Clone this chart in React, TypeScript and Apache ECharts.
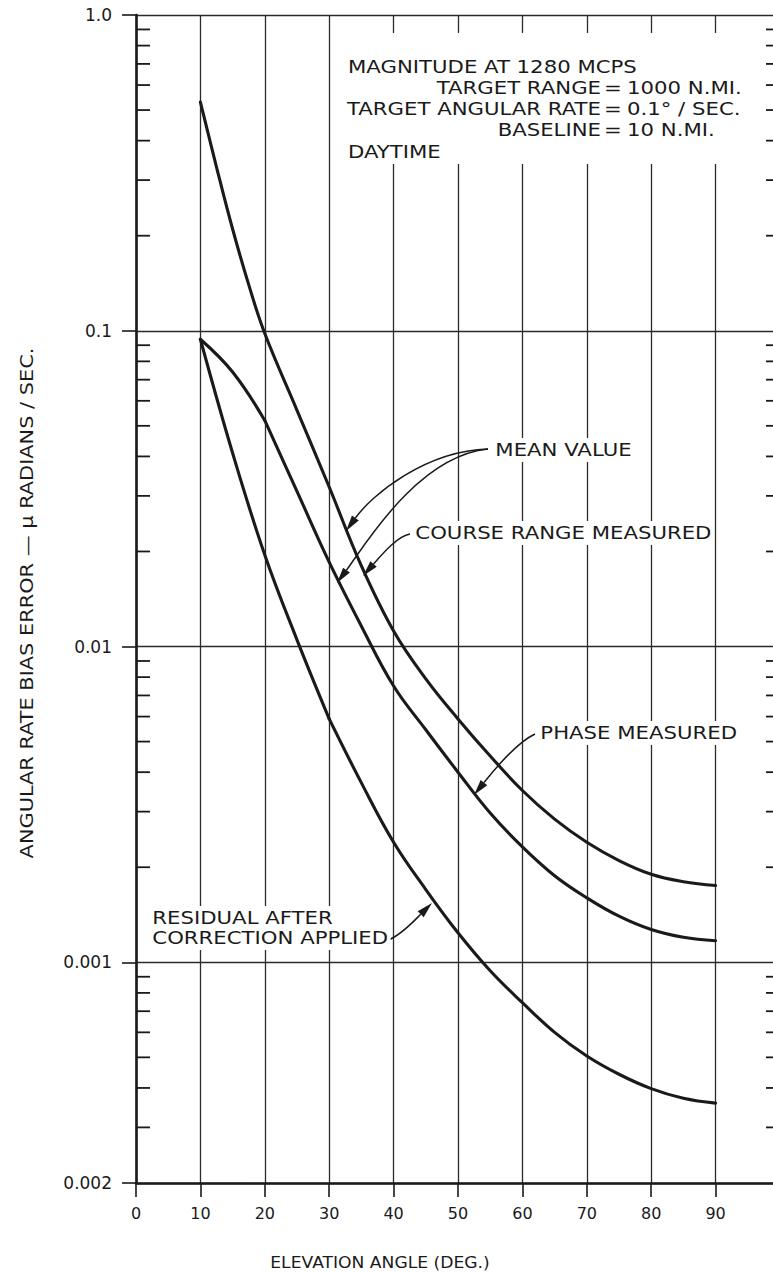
import React, { useEffect, useRef } from "react";
import * as echarts from "echarts";

// ---- data ----
const courseAngles = [10, 12.5, 15, 17.5, 20, 25, 30, 35, 40, 45, 50, 55, 60, 65, 70, 75, 80, 85, 90];
const courseRangeMeasured = [0.53, 0.33, 0.21, 0.14, 0.098, 0.056, 0.032, 0.018, 0.0112, 0.0079, 0.0059, 0.0045, 0.0035, 0.00284, 0.0024, 0.0021, 0.0019, 0.0018, 0.00175];

const angles = [10, 15, 20, 25, 30, 35, 40, 45, 50, 55, 60, 65, 70, 75, 80, 85, 90];
const phaseMeasured = [0.094, 0.074, 0.052, 0.031, 0.0185, 0.0116, 0.0075, 0.00545, 0.004, 0.00297, 0.00232, 0.00188, 0.0016, 0.0014, 0.00127, 0.0012, 0.00117];
const residualAfterCorrection = [0.094, 0.041, 0.0195, 0.0105, 0.0059, 0.0037, 0.0024, 0.0017, 0.00124, 0.00094, 0.000745, 0.0006, 0.000505, 0.000442, 0.000398, 0.000371, 0.000358];
// angles where the drawn curves have a corner
const phaseCornerAngle = 20;
const residualCornerAngle = 30;

const xTickLabels = ["0", "10", "20", "30", "40", "50", "60", "70", "80", "90"];
const yTickValues = [0.0002, 0.001, 0.01, 0.1, 1];
const yTickLabels = ["0.002", "0.001", "0.01", "0.1", "1.0"];
const minorTickValues = [
  0.0003, 0.0004, 0.0005, 0.0006, 0.0007, 0.0008, 0.0009,
  0.002, 0.003, 0.004, 0.005, 0.006, 0.007, 0.008, 0.009,
  0.02, 0.03, 0.04, 0.05, 0.06, 0.07, 0.08, 0.09,
  0.2, 0.3, 0.4, 0.5, 0.6, 0.7, 0.8, 0.9,
];

const infoLines = [
  { left: "TARGET RANGE", right: "1000 N.MI." },
  { left: "TARGET ANGULAR RATE", right: "0.1° / SEC." },
  { left: "BASELINE", right: "10 N.MI." },
];

const INK = "#1a1a1a";
const FONT = "DejaVu Sans";
const ANN_SIZE = 18;
const ANN_SCALE = 1.18;

function label(text: string, x: number, y: number, align: string = "left", bg = true) {
  return {
    type: "text",
    x,
    y,
    z: 30,
    scaleX: ANN_SCALE,
    style: {
      text,
      fontSize: ANN_SIZE,
      fontFamily: FONT,
      fill: INK,
      align,
      verticalAlign: "middle",
      backgroundColor: bg ? "#ffffff" : undefined,
      padding: bg ? [3, 2] : 0,
    },
  };
}

function arrow(p0: number[], c1: number[], c2: number[], tip: number[]) {
  const dx = tip[0] - c2[0];
  const dy = tip[1] - c2[1];
  const L = Math.hypot(dx, dy);
  const ux = dx / L;
  const uy = dy / L;
  const len = 16;
  const hw = 4.2;
  const base = [tip[0] - ux * len, tip[1] - uy * len];
  const nx = -uy;
  const ny = ux;
  return [
    {
      type: "bezierCurve",
      z: 25,
      shape: { x1: p0[0], y1: p0[1], cpx1: c1[0], cpy1: c1[1], cpx2: c2[0], cpy2: c2[1], x2: base[0], y2: base[1] },
      style: { stroke: INK, lineWidth: 1.5, fill: "none" },
    },
    {
      type: "polygon",
      z: 25,
      shape: {
        points: [
          [tip[0], tip[1]],
          [base[0] + nx * hw, base[1] + ny * hw],
          [base[0] - nx * hw, base[1] - ny * hw],
        ],
      },
      style: { fill: INK },
    },
  ];
}

function pairs(xs: number[], ys: number[], from: number, to: number) {
  const out: number[][] = [];
  xs.forEach((a, i) => {
    if (a >= from && a <= to) out.push([a, ys[i]]);
  });
  return out;
}

export default function App() {
  const ref = useRef<HTMLDivElement>(null);

  useEffect(() => {
    if (!ref.current) return;
    const chart = echarts.init(ref.current, null, { renderer: "svg" });

    const lineSeries = (name: string, data: number[][]) => ({
      name,
      type: "line",
      data,
      smooth: 0.4,
      showSymbol: false,
      symbol: "none",
      z: 5,
      lineStyle: { color: INK, width: 3.1, cap: "round", join: "round" },
      silent: true,
    });

    const graphics: any[] = [
      { type: "rect", z: 20, shape: { x: 343, y: 33, width: 406, height: 131 }, style: { fill: "#ffffff" } },
      label("MAGNITUDE AT 1280 MCPS", 348, 67, "left", false),
      label("DAYTIME", 348, 152, "left", false),
      ...infoLines.flatMap((ln, i) => {
        const y = 88 + i * 21;
        return [
          label(ln.left, 601, y, "right", false),
          label("=", 613, y, "center", false),
          label(ln.right, 627, y, "left", false),
        ];
      }),
      label("MEAN VALUE", 493, 450),
      label("COURSE RANGE MEASURED", 413, 533),
      label("PHASE MEASURED", 538, 733),
      label("RESIDUAL AFTER", 150, 918),
      label("CORRECTION APPLIED", 150, 938),
      ...arrow([488, 449], [425, 451], [372, 495], [346, 531]),
      ...arrow([488, 449], [418, 456], [365, 545], [337, 583]),
      ...arrow([410, 534], [398, 536], [384, 552], [363, 576]),
      ...arrow([535, 734], [518, 742], [498, 765], [474, 795]),
      ...arrow([388, 940], [400, 936], [414, 921], [432, 903]),
      {
        type: "text",
        x: 27,
        y: 603,
        rotation: Math.PI / 2,
        scaleX: 1.16,
        z: 30,
        style: {
          text: "ANGULAR RATE BIAS ERROR — μ RADIANS / SEC.",
          fontSize: ANN_SIZE,
          fontFamily: FONT,
          fill: INK,
          align: "center",
          verticalAlign: "middle",
        },
      },
      {
        type: "text",
        x: 380,
        y: 1262,
        z: 30,
        scaleX: 1.04,
        style: {
          text: "ELEVATION ANGLE (DEG.)",
          fontSize: 16.5,
          fontFamily: FONT,
          fill: INK,
          align: "center",
          verticalAlign: "middle",
        },
      },
    ];

    chart.setOption({
      animation: false,
      backgroundColor: "#ffffff",
      textStyle: { fontFamily: FONT, color: INK },
      grid: { left: 136, top: 15, width: 644, height: 1168, containLabel: false },
      xAxis: {
        type: "value",
        min: 0,
        max: 100,
        interval: 10,
        axisLine: { show: true, onZero: false, lineStyle: { color: INK, width: 2.6 } },
        axisTick: { show: true, inside: false, length: 14, lineStyle: { color: INK, width: 1.6 } },
        axisLabel: {
          margin: 22,
          fontSize: 16,
          fontFamily: FONT,
          color: INK,
          formatter: (v: number) => {
            const i = Math.round(v / 10);
            return i < xTickLabels.length ? xTickLabels[i] : "";
          },
        },
        splitLine: { show: true, lineStyle: { color: "#2b2b2b", width: 1.3 } },
      },
      yAxis: {
        type: "log",
        logBase: 10,
        min: yTickValues[0],
        max: yTickValues[yTickValues.length - 1],
        axisLine: { show: true, lineStyle: { color: INK, width: 2.6 } },
        axisTick: { show: true, inside: false, length: 14, lineStyle: { color: INK, width: 1.6 } },
        axisLabel: {
          margin: 24,
          fontSize: 17,
          fontFamily: FONT,
          color: INK,
          formatter: (v: number) => {
            let best = 0;
            let bd = Infinity;
            yTickValues.forEach((t, i) => {
              const d = Math.abs(Math.log10(t) - Math.log10(v));
              if (d < bd) { bd = d; best = i; }
            });
            return bd < 0.05 ? yTickLabels[best] : "";
          },
        },
        splitLine: { show: true, lineStyle: { color: "#2b2b2b", width: 1.3 } },
      },
      series: [
        lineSeries("Course range measured", pairs(courseAngles, courseRangeMeasured, 0, 90)),
        lineSeries("Phase measured", pairs(angles, phaseMeasured, 0, phaseCornerAngle)),
        lineSeries("Phase measured", pairs(angles, phaseMeasured, phaseCornerAngle, 90)),
        lineSeries("Residual after correction applied", pairs(angles, residualAfterCorrection, 0, residualCornerAngle)),
        lineSeries("Residual after correction applied", pairs(angles, residualAfterCorrection, residualCornerAngle, 90)),
        {
          type: "custom",
          silent: true,
          z: 4,
          clip: false,
          data: minorTickValues.map((v) => [0, v]),
          renderItem: (params: any, api: any) => {
            const v = api.value(1);
            const p = api.coord([0, v]);
            const q = api.coord([100, v]);
            return {
              type: "group",
              children: [
                { type: "line", shape: { x1: p[0], y1: p[1], x2: p[0] + 14, y2: p[1] }, style: { stroke: INK, lineWidth: 1.8 } },
                { type: "line", shape: { x1: q[0] - 14, y1: q[1], x2: q[0], y2: q[1] }, style: { stroke: INK, lineWidth: 1.8 } },
              ],
            };
          },
        },
      ],
      graphic: graphics,
    });

    return () => chart.dispose();
  }, []);

  return (
    <div style={{ position: "absolute", left: 0, top: 0, width: 773, height: 1273, overflow: "hidden", background: "#fff" }}>
      <div ref={ref} style={{ width: 800, height: 1273 }} />
    </div>
  );
}
